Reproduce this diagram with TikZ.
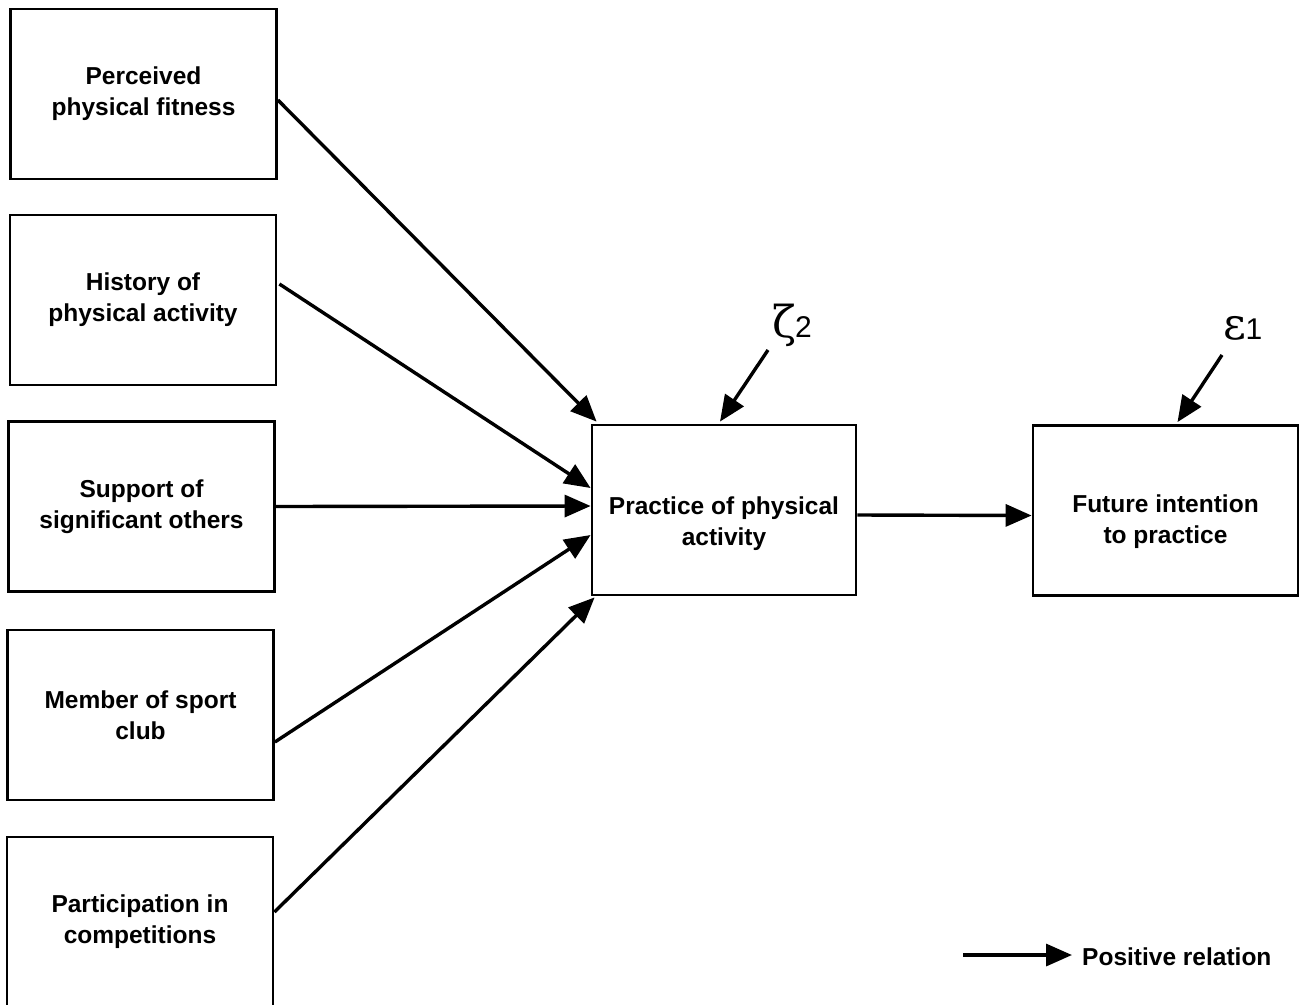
\documentclass[tikz,border=0pt]{standalone}
\usepackage{fontspec}
\setmainfont{Liberation Sans}
\newfontfamily\grk{DejaVu Serif}
\usetikzlibrary{arrows.meta,calc}
\newcommand{\lowtext}[2]{\begin{tabular}{@{}c@{}}\rule{0pt}{#1}#2\end{tabular}}
\begin{document}
\begin{tikzpicture}[x=1pt,y=-1pt,
  box/.style={draw,line width=2.8pt,minimum width=266pt,minimum height=170pt,inner sep=0pt,align=center,
    font=\fontsize{24.5}{31}\selectfont\bfseries},
  conn/.style={line width=3.4pt,-{Triangle[length=26pt,width=22pt]}},
  lbl/.style={inner sep=0pt,font=\fontsize{24.5}{31}\selectfont\bfseries}]
\useasboundingbox (0,0) rectangle (1300,1004);
\clip (0,0) rectangle (1300,1004);
\node[box] (b1) at (143.5,94) {Perceived\\physical fitness};
\node[box] (b2) at (143,300) {History of\\physical activity};
\node[box] (b3) at (141.5,506.5) {Support of\\significant others};
\node[box] (b4) at (140.5,715) {Member of sport\\club};
\node[box] (b5) at (140,922) {Participation in\\competitions};
\node[box,minimum width=264pt] (p) at (724,510) {\lowtext{50pt}{Practice of physical\\activity}};
\node[box,minimum width=265pt] (f) at (1165.5,510.5) {\lowtext{44pt}{Future intention\\to practice}};
\draw[conn] ($(b1.east)+(0,6)$) -- ($(p.north west)+(6,-2)$);
\draw[conn] ($(b2.east)+(2,-16)$) -- ($(p.west)+(0,-22)$);
\draw[conn] (b3.east) -- ($(p.west)+(0,-4)$);
\draw[conn] ($(b4.east)+(0,27)$) -- ($(p.west)+(0,25)$);
\draw[conn] ($(b5.east)+(0,-10)$) -- ($(p.south west)+(4,1)$);
\draw[conn] ($(p.east)+(0,5)$) -- ($(f.west)+(0,5)$);
\coordinate (zs) at (768,350);
\coordinate (es) at (1222,355);
\node[inner sep=0pt] (zl) at (792,325) {\fontsize{44}{44}\selectfont\grk ζ\kern-1pt\fontsize{30}{30}\selectfont\normalfont 2};
\node[inner sep=0pt] (el) at (1243,328) {\fontsize{44}{44}\selectfont\grk ε\kern-1pt\fontsize{30}{30}\selectfont\normalfont 1};
\draw[conn] (zs) -- ($(p.north)+(-4,-2)$);
\draw[conn] (es) -- ($(f.north)+(12,-2)$);
\coordinate (la) at (963,955);
\coordinate (lb) at (1072,955);
\draw[conn] (la) -- (lb);
\node[lbl,anchor=west] (lt) at (1082,957) {Positive relation};
\end{tikzpicture}
\end{document}
